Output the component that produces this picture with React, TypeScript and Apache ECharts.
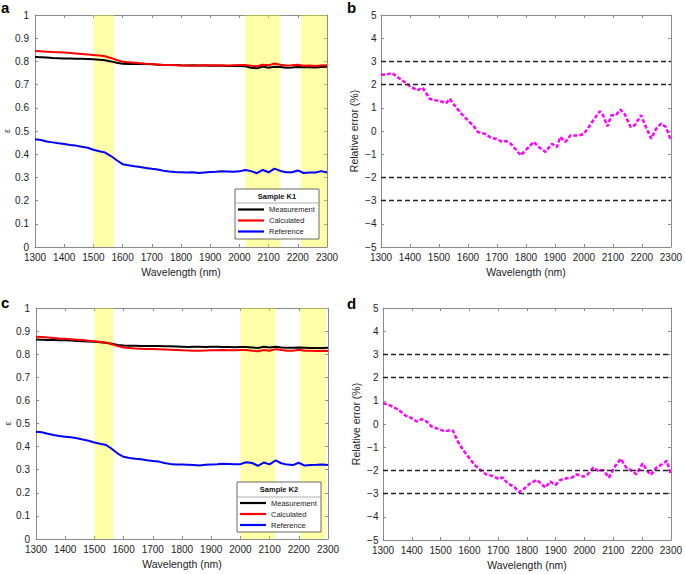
import React, { useEffect, useRef } from "react";
import * as echarts from "echarts";

const wavelengths = [
  1300, 1320, 1340, 1360, 1380, 1400, 1420, 1440, 1460, 1480,
  1500, 1520, 1540, 1560, 1580, 1600, 1620, 1640, 1660, 1680,
  1700, 1720, 1740, 1760, 1780, 1800, 1820, 1840, 1860, 1880,
  1900, 1920, 1940, 1960, 1980, 2000, 2020, 2040, 2060, 2080,
  2100, 2120, 2140, 2160, 2180, 2200, 2220, 2240, 2260, 2280,
  2300,
];

const measK1 = [
  0.819, 0.818, 0.817, 0.815, 0.814, 0.813, 0.812, 0.811, 0.811, 0.81,
  0.809, 0.807, 0.805, 0.8, 0.794, 0.79, 0.789, 0.789, 0.79, 0.789,
  0.788, 0.786, 0.784, 0.784, 0.785, 0.783, 0.782, 0.783, 0.782, 0.782,
  0.781, 0.782, 0.781, 0.78, 0.78, 0.78, 0.779, 0.773, 0.77, 0.778,
  0.773, 0.777, 0.776, 0.773, 0.774, 0.776, 0.775, 0.775, 0.774, 0.776,
  0.777,
];
const calcK1 = [
  0.845, 0.844, 0.842, 0.84, 0.839, 0.838, 0.836, 0.834, 0.832, 0.83,
  0.828, 0.825, 0.822, 0.815, 0.806, 0.798, 0.796, 0.794, 0.792, 0.79,
  0.789, 0.787, 0.785, 0.784, 0.783, 0.782, 0.782, 0.781, 0.782, 0.783,
  0.783, 0.782, 0.783, 0.782, 0.783, 0.784, 0.785, 0.781, 0.779, 0.786,
  0.783, 0.791, 0.786, 0.782, 0.783, 0.786, 0.781, 0.782, 0.78, 0.782,
  0.783,
];
const refK1 = [
  0.464, 0.461, 0.455, 0.451, 0.447, 0.444, 0.44, 0.437, 0.432, 0.428,
  0.419, 0.413, 0.407, 0.392, 0.374, 0.357, 0.352, 0.348, 0.345, 0.341,
  0.337, 0.334, 0.329, 0.325, 0.323, 0.322, 0.321, 0.322, 0.319, 0.321,
  0.323, 0.324, 0.326, 0.325, 0.324, 0.326, 0.332, 0.327, 0.318, 0.332,
  0.322, 0.338, 0.328, 0.322, 0.322, 0.33, 0.319, 0.321, 0.321, 0.327,
  0.321,
];
const measK2 = [
  0.864, 0.863, 0.862, 0.861, 0.86, 0.86, 0.859, 0.857, 0.856, 0.855,
  0.854, 0.852, 0.85, 0.845, 0.84, 0.838, 0.837, 0.837, 0.836, 0.836,
  0.836, 0.836, 0.834, 0.834, 0.833, 0.832, 0.831, 0.832, 0.832, 0.831,
  0.832, 0.832, 0.831, 0.831, 0.83, 0.831, 0.831, 0.829, 0.827, 0.832,
  0.829, 0.832, 0.829, 0.828, 0.828, 0.829, 0.828, 0.827, 0.827, 0.827,
  0.828,
];
const calcK2 = [
  0.876, 0.874, 0.872, 0.87, 0.868, 0.867, 0.865, 0.863, 0.861, 0.858,
  0.856, 0.853, 0.85, 0.843, 0.835, 0.829, 0.827, 0.825, 0.824, 0.823,
  0.822, 0.821, 0.82, 0.819, 0.818, 0.817, 0.816, 0.815, 0.815, 0.816,
  0.817, 0.817, 0.818, 0.817, 0.817, 0.818, 0.818, 0.815, 0.813, 0.818,
  0.815, 0.822, 0.818, 0.815, 0.815, 0.819, 0.815, 0.815, 0.814, 0.815,
  0.814,
];
const refK2 = [
  0.464, 0.462, 0.456, 0.45, 0.446, 0.443, 0.44, 0.436, 0.431, 0.425,
  0.418, 0.412, 0.407, 0.39, 0.37, 0.356, 0.351, 0.347, 0.345, 0.341,
  0.338, 0.335, 0.329, 0.325, 0.323, 0.322, 0.321, 0.32, 0.318, 0.321,
  0.323, 0.324, 0.326, 0.325, 0.324, 0.324, 0.332, 0.329, 0.317, 0.331,
  0.323, 0.34, 0.328, 0.322, 0.32, 0.33, 0.318, 0.32, 0.321, 0.323,
  0.32,
];

const errK1Wl = [
  1300, 1315, 1338, 1360, 1380, 1400, 1425, 1443, 1469, 1490,
  1514, 1525, 1537, 1560, 1582, 1605, 1620, 1634, 1662, 1680,
  1696, 1715, 1730, 1748, 1765, 1782, 1799, 1815, 1827, 1844,
  1867, 1890, 1907, 1918, 1936, 1953, 1981, 1998, 2013, 2032,
  2055, 2066, 2081, 2095, 2110, 2126, 2141, 2161, 2175, 2197,
  2215, 2232, 2249, 2266, 2283, 2300,
];
const errK1 = [
  2.44, 2.42, 2.5, 2.3, 2.12, 1.93, 1.75, 1.87, 1.38, 1.32,
  1.25, 1.2, 1.39, 1.0, 0.68, 0.39, 0.2, -0.04, -0.14, -0.3,
  -0.33, -0.45, -0.43, -0.55, -0.8, -1.05, -0.83, -0.62, -0.47, -0.69,
  -0.9, -0.55, -0.69, -0.26, -0.47, -0.19, -0.19, -0.14, 0.1, 0.46,
  0.85, 0.68, 0.2, 0.68, 0.68, 0.92, 0.72, 0.17, 0.24, 0.68,
  0.14, -0.33, 0.1, 0.32, 0.17, -0.4,
];
const errK2Wl = [
  1300, 1325, 1354, 1377, 1400, 1417, 1434, 1451, 1469, 1492,
  1514, 1532, 1543, 1560, 1578, 1600, 1618, 1635, 1658, 1681,
  1704, 1715, 1732, 1755, 1772, 1789, 1812, 1835, 1847, 1864,
  1881, 1899, 1916, 1939, 1956, 1973, 1996, 2011, 2030, 2048,
  2065, 2085, 2105, 2126, 2145, 2168, 2180, 2202, 2220, 2231,
  2248, 2266, 2286, 2300,
];
const errK2 = [
  0.9, 0.8, 0.61, 0.37, 0.25, 0.11, 0.21, 0.11, -0.11, -0.21,
  -0.32, -0.27, -0.29, -0.76, -1.12, -1.47, -1.76, -1.95, -2.17, -2.24,
  -2.38, -2.3, -2.55, -2.7, -2.94, -2.8, -2.55, -2.41, -2.55, -2.74,
  -2.48, -2.63, -2.41, -2.34, -2.31, -2.17, -2.27, -2.17, -1.88, -2.02,
  -1.98, -2.31, -1.84, -1.5, -1.88, -2.05, -2.17, -1.7, -2.05, -2.19,
  -1.9, -1.76, -1.59, -2.19,
];

const bandsK1 = [
  [1500, 1570],
  [2020, 2140],
  [2210, 2300],
];
const bandsK2 = [
  [1500, 1565],
  [2000, 2120],
  [2205, 2293],
];
const thresholds = [3, 2, -2, -3];
const legendNames = ["Measurement", "Calculated", "Reference"];
const sampleTitles = ["Sample K1", "Sample K2"];
const panelLetters = ["a", "b", "c", "d"];

const FONT = "Liberation Sans, Arial, Helvetica, sans-serif";
const AX = "#8a8a8a";
const TXT = "#222";

const grids = [
  { left: 35, top: 15, width: 292, height: 232 },
  { left: 381, top: 15, width: 292, height: 232 },
  { left: 36, top: 308, width: 292, height: 231 },
  { left: 383, top: 308, width: 290, height: 232 },
];

function pairs(xs: number[], ys: number[]) {
  return xs.map((x, i) => [x, ys[i]]);
}

function buildOption() {
  const xAxis: any[] = [];
  const yAxis: any[] = [];
  const frameLine = { show: true, onZero: false, lineStyle: { color: AX, width: 1 } };
  const tick = { show: true, inside: true, length: 3, lineStyle: { color: AX } };
  grids.forEach((_, i) => {
    const isErr = i % 2 === 1;
    xAxis.push({
      type: "value",
      gridIndex: i,
      min: 1300,
      max: 2300,
      interval: 100,
      position: "bottom",
      axisLine: frameLine,
      axisTick: tick,
      axisLabel: {
        margin: 5,
        fontSize: 10,
        lineHeight: 10,
        color: TXT,
        fontFamily: FONT,
        formatter: (v: number) => String(v),
      },
      splitLine: { show: false },
      name: "Wavelength (nm)",
      nameLocation: "middle",
      nameGap: 19,
      nameTextStyle: { fontSize: 10.5, color: TXT, fontFamily: FONT },
    });
    xAxis.push({
      type: "value",
      gridIndex: i,
      min: 1300,
      max: 2300,
      interval: 100,
      position: "top",
      axisLine: frameLine,
      axisTick: tick,
      axisLabel: { show: false },
      splitLine: { show: false },
    });
    yAxis.push({
      type: "value",
      gridIndex: i,
      min: isErr ? -5 : 0,
      max: isErr ? 5 : 1,
      interval: isErr ? 1 : 0.1,
      position: "left",
      axisLine: frameLine,
      axisTick: tick,
      axisLabel: {
        margin: isErr ? 4.5 : 6,
        fontSize: 10,
        lineHeight: 10,
        color: TXT,
        fontFamily: FONT,
        formatter: (v: number) => String(v).replace("-", "\u2212"),
      },
      splitLine: { show: false },
      name: isErr ? "Relative error (%)" : "\u03b5",
      nameLocation: "middle",
      nameGap: isErr ? 22 : 20,
      nameTextStyle: { fontSize: isErr ? 10.5 : 9, color: TXT, fontFamily: FONT },
    });
    yAxis.push({
      type: "value",
      gridIndex: i,
      min: isErr ? -5 : 0,
      max: isErr ? 5 : 1,
      interval: isErr ? 1 : 0.1,
      position: "right",
      axisLine: frameLine,
      axisTick: tick,
      axisLabel: { show: false },
      splitLine: { show: false },
    });
  });

  const series: any[] = [];
  const specPanels = [
    { g: 0, meas: measK1, calc: calcK1, ref: refK1, bands: bandsK1 },
    { g: 2, meas: measK2, calc: calcK2, ref: refK2, bands: bandsK2 },
  ];
  const colors = ["#000000", "#ff0000", "#0000ff"];
  specPanels.forEach((p) => {
    const ax = { xAxisIndex: p.g * 2, yAxisIndex: p.g * 2 };
    [p.meas, p.calc, p.ref].forEach((vals, k) => {
      series.push({
        type: "line",
        name: legendNames[k],
        ...ax,
        data: pairs(wavelengths, vals),
        symbol: "none",
        showSymbol: false,
        smooth: false,
        silent: true,
        z: 2,
        lineStyle: { color: colors[k], width: 2 },
        itemStyle: { color: colors[k] },
      });
    });
    series.push({
      type: "line",
      ...ax,
      data: [],
      silent: true,
      z: 5,
      markArea: {
        silent: true,
        itemStyle: { color: "rgba(255,255,0,0.34)" },
        data: p.bands.map(([a, b]) => [{ xAxis: a }, { xAxis: b }]),
      },
    });
  });

  const errPanels = [
    { g: 1, wl: errK1Wl, vals: errK1 },
    { g: 3, wl: errK2Wl, vals: errK2 },
  ];
  errPanels.forEach((p) => {
    const ax = { xAxisIndex: p.g * 2, yAxisIndex: p.g * 2 };
    series.push({
      type: "line",
      ...ax,
      data: [],
      silent: true,
      z: 2,
      markLine: {
        silent: true,
        symbol: ["none", "none"],
        label: { show: false },
        lineStyle: { color: "#222", width: 1.4, type: [5, 3] },
        data: thresholds.map((v) => ({ yAxis: v })),
      },
    });
    series.push({
      type: "line",
      name: "Relative error",
      ...ax,
      data: pairs(p.wl, p.vals),
      symbol: "none",
      showSymbol: false,
      silent: true,
      z: 3,
      lineStyle: { color: "#ff00ff", width: 2.5, type: [4, 2] },
      itemStyle: { color: "#ff00ff" },
    });
  });

  const legendBoxes = [
    { x: 235, y: 189, w: 84, h: 50, sep: 203, title: 196, itemsTop: 205.5 },
    { x: 237, y: 482, w: 84, h: 50, sep: 497, title: 489.5, itemsTop: 499 },
  ];

  const graphic: any[] = [];
  const letterPos = [
    [1, 0],
    [347, 0],
    [1, 295],
    [347, 296],
  ];
  panelLetters.forEach((l, i) => {
    graphic.push({
      type: "text",
      x: letterPos[i][0],
      y: letterPos[i][1],
      z: 100,
      style: {
        text: l,
        fontSize: 15,
        fontWeight: "bold",
        fontFamily: FONT,
        fill: "#000",
        align: "left",
        verticalAlign: "top",
      },
    });
  });
  legendBoxes.forEach((b, i) => {
    graphic.push({
      type: "rect",
      z: 100,
      shape: { x: b.x, y: b.y, width: b.w, height: b.h },
      style: { fill: "#ffffff", stroke: "#444", lineWidth: 0.8 },
    });
    graphic.push({
      type: "line",
      z: 101,
      shape: { x1: b.x, y1: b.sep, x2: b.x + b.w, y2: b.sep },
      style: { stroke: "#999", lineWidth: 0.8 },
    });
    graphic.push({
      type: "text",
      z: 101,
      x: b.x + b.w / 2,
      y: b.title,
      style: {
        text: sampleTitles[i],
        fontSize: 7.5,
        fontWeight: "bold",
        fontFamily: FONT,
        fill: "#111",
        align: "center",
        verticalAlign: "middle",
      },
    });
  });

  const legend = legendBoxes.map((b) => ({
    data: legendNames,
    left: b.x + 3,
    top: b.itemsTop,
    orient: "vertical",
    itemWidth: 26,
    itemHeight: 2.2,
    itemGap: 3,
    icon: "rect",
    padding: 0,
    selectedMode: false,
    z: 102,
    textStyle: { fontSize: 7.5, color: TXT, fontFamily: FONT, padding: [0, 0, 0, 0] },
  }));

  return {
    animation: false,
    backgroundColor: "#ffffff",
    textStyle: { fontFamily: FONT },
    grid: grids.map((g) => ({ ...g, containLabel: false })),
    xAxis,
    yAxis,
    legend,
    graphic,
    series,
  };
}

export default function App() {
  const ref = useRef<HTMLDivElement>(null);
  useEffect(() => {
    if (!ref.current) return;
    const chart = echarts.init(ref.current, undefined, { renderer: "svg" });
    chart.setOption(buildOption() as any);
    return () => chart.dispose();
  }, []);
  return (
    <div
      ref={ref}
      style={{ position: "fixed", left: 0, top: 0, width: 685, height: 574, background: "#fff" }}
    />
  );
}
